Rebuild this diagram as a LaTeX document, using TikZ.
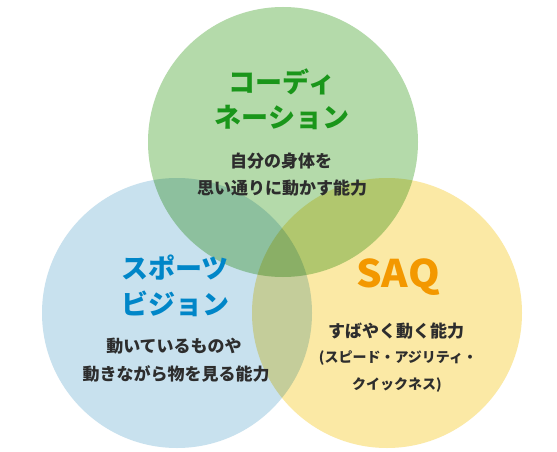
\documentclass[tikz,border=0pt]{standalone}
\usepackage{fontspec}
\newfontfamily\jp{Noto Sans CJK JP}
\definecolor{gfill}{RGB}{180,218,170}
\definecolor{bfill}{RGB}{200,225,238}
\definecolor{yfill}{RGB}{251,233,165}
\definecolor{gtitle}{RGB}{26,150,26}
\definecolor{btitle}{RGB}{0,134,200}
\definecolor{otitle}{RGB}{243,152,0}
\definecolor{bodytxt}{RGB}{45,45,45}
\tikzset{
  circ/.style={circle, minimum size=270pt, inner sep=0pt, draw=none},
  ttl/.style={inner sep=0pt, font=\jp\bfseries\fontsize{27}{27}\selectfont},
  sub/.style={inner sep=0pt, text=bodytxt, font=\jp\bfseries\fontsize{17}{17}\selectfont},
  small/.style={inner sep=0pt, text=bodytxt, font=\jp\bfseries\fontsize{14}{14}\selectfont}
}
\begin{document}
\begin{tikzpicture}[x=1pt,y=-1pt]
\useasboundingbox[fill=white] (0,0) rectangle (557,452);
\begin{scope}[blend group=multiply]
\node[circ, fill=gfill] (cg) at (283,142) {};
\node[circ, fill=bfill] (cb) at (177,313) {};
\node[circ, fill=yfill] (cy) at (387,313) {};
\end{scope}
% green
\node[ttl, text=gtitle] (g1) at (282,82) {コーディ};
\node[ttl, text=gtitle] (g2) at (282,117) {ネーション};
\node[sub] (g3) at (281,161) {自分の身体を};
\node[sub] (g4) at (282,188) {思い通りに動かす能力};
% blue
\node[ttl, text=btitle] (b1) at (175,268) {スポーツ};
\node[ttl, text=btitle] (b2) at (175,304) {ビジョン};
\node[sub] (b3) at (174,346) {動いているものや};
\node[sub] (b4) at (176,374) {動きながら物を見る能力};
% yellow
\node[inner sep=0pt, text=otitle, xscale=1.06, font=\jp\bfseries\fontsize{38}{38}\selectfont] (y1) at (398,277) {SAQ};
\node[sub] (y2) at (396,331) {すばやく動く能力};
\node[small] (y3) at (398,358) {(スピード・アジリティ・};
\node[small] (y4) at (397,385) {クイックネス)};
\end{tikzpicture}
\end{document}
